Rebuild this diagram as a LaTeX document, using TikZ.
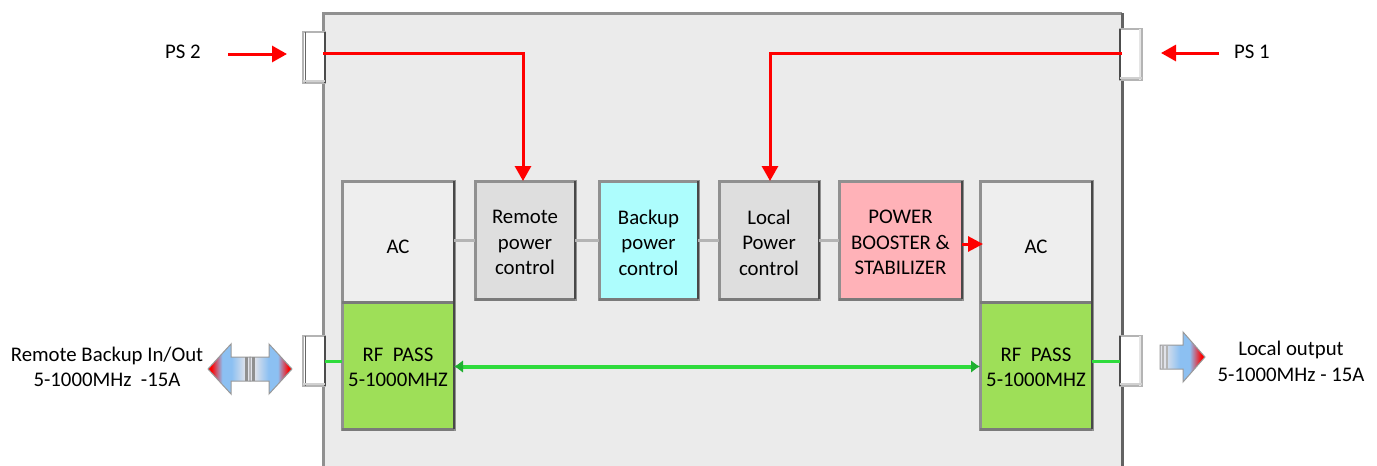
\documentclass[tikz,border=0pt]{standalone}
\usepackage{fontspec}
\setmainfont{Carlito}
\usetikzlibrary{arrows.meta,calc}
\definecolor{panelc}{HTML}{EBEBEB}
\definecolor{edgec}{HTML}{909090}
\definecolor{edgeb}{HTML}{7A7A7A}
\definecolor{edged}{HTML}{484848}
\definecolor{linkc}{HTML}{B4B4B4}
\definecolor{rfc}{HTML}{9EDF58}
\definecolor{acc}{HTML}{EEEEEE}
\definecolor{ctlc}{HTML}{DEDEDE}
\definecolor{bakc}{HTML}{ADFDFD}
\definecolor{powc}{HTML}{FFB2B8}
\definecolor{gl}{HTML}{2EDB3C}
\definecolor{gd}{HTML}{1FAF30}
\definecolor{pr}{HTML}{FF0000}
\definecolor{ab}{HTML}{8CC0F2}
\definecolor{ag}{HTML}{E2E3EA}
\pgfdeclarehorizontalshading{arrowR}{100bp}{color(0bp)=(ag);color(30bp)=(ag);color(47bp)=(ab);color(58bp)=(ab);color(71bp)=(pr);color(100bp)=(pr)}
\pgfdeclarehorizontalshading{arrowL}{100bp}{color(0bp)=(pr);color(29bp)=(pr);color(42bp)=(ab);color(53bp)=(ab);color(70bp)=(ag);color(100bp)=(ag)}
\tikzset{
  x=1pt,y=-1pt,
  base/.style={font=\fontsize{20.8}{25.5}\selectfont,text=black},
  block/.style={anchor=north west,draw=edgec,line width=3pt,inner sep=0pt,outer sep=0pt},
  acbox/.style={block,fill=acc,minimum width=112pt,minimum height=121pt},
  rfbox/.style={block,fill=rfc,minimum width=112pt,minimum height=127pt},
  ctl/.style={block,minimum width=100pt,minimum height=118pt},
  txt/.style={base,align=center,inner sep=0pt},
  actxt/.style={txt,yshift=-5pt},
  rftxt/.style={txt,yshift=-2pt},
  ctltxt/.style={txt,yshift=-2.5pt},
  port/.style={anchor=north west,fill=white,draw=linkc,line width=2pt,minimum width=22pt,minimum height=50pt,inner sep=0pt,outer sep=0pt},
  bevelr/.style={draw=edged,line width=2.5pt},
  bevelb/.style={draw=edgeb,line width=3pt},
  redline/.style={draw=pr,line width=3pt},
  redtip/.style={-{Triangle[length=15pt,width=16pt,fill=pr]}},
  greyl/.style={draw=linkc,line width=3pt},
  greenl/.style={draw=gl,line width=3pt},
  blockarrow/.style={draw=linkc!85!black,line width=1pt}
}
\begin{document}
\begin{tikzpicture}
\useasboundingbox (0,0) rectangle (1377,466);
\clip (0,0) rectangle (1377,466);
% panel
\fill[panelc] (323,13) rectangle (1122,470);
\draw[edgec,line width=3pt] (323,470)--(323,13)--(1122,13);
\draw[edged!85,line width=3pt] (1122,13)--(1122,470);
% ports
\node[port,minimum height=51pt] (pTL) at (303,32) {};
\node[port,minimum height=51pt] (pTR) at (1120,29) {};
\node[port] (pBL) at (303,336) {};
\node[port] (pBR) at (1120,336) {};
\foreach \p in {pTL,pBL}{
  \draw[draw=black!60,line width=1pt] ([xshift=2pt]\p.north west)--([xshift=2pt]\p.south west);
  \draw[draw=black!70,line width=2pt] (\p.north east)--(\p.south east);
}
\foreach \p in {pTR,pBR}{
  \draw[draw=black!10,line width=1.5pt] ([xshift=-2pt]\p.north east)--([xshift=-2pt]\p.south east);
  \draw[draw=black!70,line width=2pt] (\p.north west)--(\p.south west);
}
\foreach \p in {pTL,pBL,pTR,pBR}{
  \draw[draw=black!18,line width=2pt] ([yshift=2pt]\p.south west)--([yshift=2pt]\p.south east);
}
% boxes
\node[acbox,label={[actxt]center:{AC}}] (acL) at (342,181) {};
\node[acbox,label={[actxt]center:{AC}}] (acR) at (980,181) {};
\node[rfbox,label={[rftxt]center:{RF\ \ PASS\\5-1000MHZ}}] (rfL) at (342,302) {};
\node[rfbox,label={[rftxt]center:{RF\ \ PASS\\5-1000MHZ}}] (rfR) at (980,302) {};
\node[ctl,fill=ctlc,label={[ctltxt]center:{Remote\\power\\control}}] (rem) at (475,181) {};
\node[ctl,fill=bakc,minimum width=99pt,label={[ctltxt]center:{Backup\\power\\control}}] (bak) at (599,181) {};
\node[ctl,fill=ctlc,label={[ctltxt]center:{Local\\Power\\control}}] (loc) at (719,181) {};
\node[ctl,fill=powc,minimum width=123pt,label={[ctltxt]center:{POWER\\BOOSTER \&\\STABILIZER}}] (pow) at (839,181) {};
\foreach \b in {acL,acR,rfL,rfR,rem,bak,loc,pow}{
  \draw[bevelb] (\b.south west)--(\b.south east);
  \draw[bevelr] (\b.north east)--(\b.south east);
}
% labels
\node[txt] (ps2) at (183,52) {PS 2};
\node[txt] (ps1) at (1252,52) {PS 1};
\node[txt] (lblL) at (107,367) {Remote Backup In/Out\\5-1000MHz\ \ -15A};
\node[txt] (lblR) at (1291,361.5) {Local output\\5-1000MHz - 15A};
% free ends
\coordinate (ps2a) at (228,54);
\coordinate (ps2b) at (287,54);
\coordinate (ps1a) at (1219,53);
\coordinate (ps1b) at (1161,53);
\coordinate (tlOut) at (323,53);
\coordinate (trOut) at (1122,53);
% grey links
\draw[greyl] (rem.west -| acL.east)--(rem.west);
\draw[greyl] (rem.east)--(bak.west);
\draw[greyl] (bak.east)--(loc.west);
\draw[greyl] (loc.east)--(pow.west);
% red
\draw[redline,redtip] (ps2a)--(ps2b);
\draw[redline,redtip] (ps1a)--(ps1b);
\draw[redline,redtip] (tlOut)-|(rem.north -| 523,0);
\draw[redline,redtip] (trOut)-|(loc.north -| 770,0);
\draw[redline,-{Triangle[length=15pt,width=15pt,fill=pr]}] ([yshift=-4pt]pow.east)--([yshift=-4pt,xshift=3pt]pow.east -| acR.west);
% green
\draw[greenl] (pBL.east |- 0,361)--(rfL.west |- 0,361);
\draw[greenl] (rfR.east |- 0,361)--(pBR.west |- 0,361);
\draw[greenl,line width=4pt,{Latex[length=9pt,width=13pt,gd]}-{Latex[length=9pt,width=13pt,gd]}] ([yshift=-1pt]rfL.east)--([yshift=-1pt]rfL.east -| rfR.west);
% block arrows
\shade[shading=arrowL,blockarrow] (250,357)--(231,357)--(231,344)--(208,369)--(231,394)--(231,381)--(250,381)--cycle;
\shade[shading=arrowR,blockarrow] (250,357)--(269,357)--(269,344)--(292,369)--(269,394)--(269,381)--(250,381)--cycle;
\fill[linkc!80!black] (245,357) rectangle (248,381);
\fill[linkc!80!black] (252,357) rectangle (255,381);
\shade[shading=arrowR,blockarrow] (1160,345)--(1183,345)--(1183,332)--(1205,357)--(1183,382)--(1183,369)--(1160,369)--cycle;
\fill[linkc] (1162,345.5) rectangle (1164,368.5);
\fill[linkc] (1166,345.5) rectangle (1168,368.5);
\end{tikzpicture}
\end{document}
